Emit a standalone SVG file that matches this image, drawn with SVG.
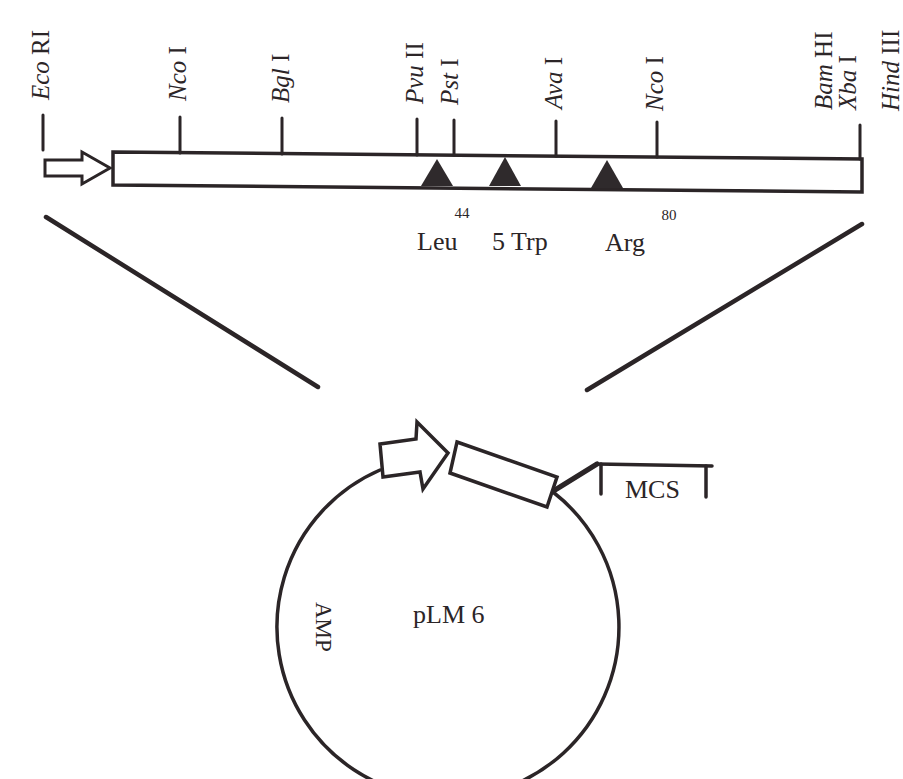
<svg xmlns="http://www.w3.org/2000/svg" width="903" height="779" viewBox="0 0 903 779">
<style>
.ln{stroke:#2b2527;fill:none;stroke-linecap:round;stroke-linejoin:round}
.sh{stroke:#2b2527;fill:#fff;stroke-linejoin:miter}
.tri{fill:#2f2a2c}
text{font-family:"Liberation Serif","Times New Roman",serif;fill:#2b2527}
.site{font-size:25px}
.aa{font-size:26px}
.num{font-size:15px}
</style>
<rect width="903" height="779" fill="#fff"/>
<g id="linear-map">
  <polygon class="sh" stroke-width="3" points="45,160 82,160 82,152 110,168 82,184 82,176 45,176"/>
  <polygon class="sh" stroke-width="3.5" points="113,152 862,159 862,192 113,185"/>
  <g class="ln" stroke-width="3">
    <line x1="43" y1="115" x2="43" y2="150"/>
    <line x1="180" y1="117" x2="180" y2="153"/>
    <line x1="282" y1="118" x2="282" y2="154"/>
    <line x1="417" y1="119" x2="417" y2="155"/>
    <line x1="454" y1="120" x2="454" y2="155"/>
    <line x1="556" y1="121" x2="556" y2="156"/>
    <line x1="657" y1="122" x2="657" y2="157"/>
    <line x1="860" y1="125" x2="860" y2="159"/>
  </g>
  <polygon class="tri" points="437,159 421,186 453,186"/>
  <polygon class="tri" points="505,157 489,186 521,186"/>
  <polygon class="tri" points="607,160 591,188 623,188"/>
</g>
<g id="site-labels">
  <text class="site" transform="translate(49,100) rotate(-90)"><tspan font-style="italic">Eco</tspan> RI</text>
  <text class="site" transform="translate(186,101) rotate(-90)"><tspan font-style="italic">Nco</tspan> I</text>
  <text class="site" transform="translate(289,103) rotate(-90)"><tspan font-style="italic">Bgl</tspan> I</text>
  <text class="site" transform="translate(423,104) rotate(-90)"><tspan font-style="italic">Pvu</tspan> II</text>
  <text class="site" transform="translate(458,105) rotate(-90)"><tspan font-style="italic">Pst</tspan> I</text>
  <text class="site" transform="translate(562,109) rotate(-90)"><tspan font-style="italic">Ava</tspan> I</text>
  <text class="site" transform="translate(663,111) rotate(-90)"><tspan font-style="italic">Nco</tspan> I</text>
  <text class="site" transform="translate(832,110) rotate(-90)"><tspan font-style="italic">Bam</tspan> HI</text>
  <text class="site" transform="translate(856,110) rotate(-90)"><tspan font-style="italic">Xba</tspan> I</text>
  <text class="site" transform="translate(899,111) rotate(-90)"><tspan font-style="italic">Hind</tspan> III</text>
</g>
<g id="mutation-labels">
  <text class="num" x="462" y="218" text-anchor="middle">44</text>
  <text class="num" x="669" y="220" text-anchor="middle">80</text>
  <text class="aa" x="417" y="250">Leu</text>
  <text class="aa" x="492" y="250">5 Trp</text>
  <text class="aa" x="605" y="251">Arg</text>
</g>
<g id="connectors" class="ln" stroke-width="4.5">
  <line x1="46" y1="217" x2="318" y2="387"/>
  <line x1="862" y1="224" x2="587" y2="390"/>
</g>
<g id="plasmid">
  <path class="ln" stroke-width="3.5" d="M380,470 A171,171 0 1,0 553,492"/>
  <polygon class="sh" stroke-width="3.5" points="380,444 416,439 417,422 448,453 423,489 420,472 383,477"/>
  <polygon class="sh" stroke-width="3.5" points="457,442 557,477 547,507 450,473"/>
  <polyline class="ln" stroke-width="5" points="555,490 597,464"/>
  <polyline class="ln" stroke-width="3.5" points="597,464 712,466"/>
  <line class="ln" stroke-width="3.5" x1="601" y1="464" x2="601" y2="494"/>
  <line class="ln" stroke-width="3.5" x1="706" y1="466" x2="706" y2="497"/>
  <text class="aa" x="625" y="498">MCS</text>
  <text class="aa" x="413" y="623">pLM 6</text>
  <text transform="translate(316,602) rotate(90)" font-size="23">AMP</text>
</g>
</svg>
